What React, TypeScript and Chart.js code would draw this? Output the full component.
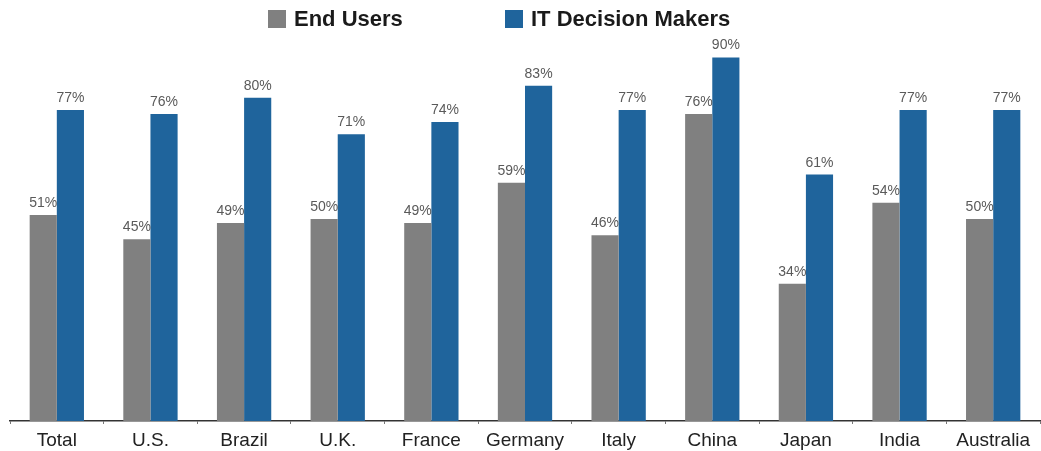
import React, { useEffect, useRef } from "react";
import { Chart, registerables } from "chart.js";

Chart.register(...registerables);

const categories = ["Total", "U.S.", "Brazil", "U.K.", "France", "Germany", "Italy", "China", "Japan", "India", "Australia"];
const endUsers = [51, 45, 49, 50, 49, 59, 46, 76, 34, 54, 50];
const itDecisionMakers = [77, 76, 80, 71, 74, 83, 77, 90, 61, 77, 77];
const seriesNames = ["End Users", "IT Decision Makers"];
const GREY = "#808080";
const BLUE = "#1f649c";

const FONT = "'Liberation Sans', Arial, Helvetica, sans-serif";

const labelPlugin = {
  id: "valueLabels",
  afterDatasetsDraw(chart: any) {
    const ctx = chart.ctx;
    ctx.save();
    ctx.font = `14px ${FONT}`;
    ctx.fillStyle = "#5a5a5a";
    ctx.textAlign = "center";
    ctx.textBaseline = "alphabetic";
    chart.data.datasets.forEach((ds: any, di: number) => {
      const meta = chart.getDatasetMeta(di);
      meta.data.forEach((bar: any, i: number) => {
        ctx.fillText(ds.data[i] + "%", bar.x, bar.y - 8);
      });
    });
    ctx.restore();
  },
};

const legendPlugin = {
  id: "customLegend",
  afterDraw(chart: any) {
    const ctx = chart.ctx;
    ctx.save();
    const items = [
      { x: 268, color: GREY, text: seriesNames[0] },
      { x: 505, color: BLUE, text: seriesNames[1] },
    ];
    ctx.font = `bold 22px ${FONT}`;
    ctx.textBaseline = "middle";
    ctx.textAlign = "left";
    items.forEach((it) => {
      ctx.fillStyle = it.color;
      ctx.fillRect(it.x, 10, 18, 18);
      ctx.fillStyle = "#1a1a1a";
      ctx.fillText(it.text, it.x + 26, 20);
    });
    ctx.restore();
  },
};

export default function App() {
  const ref = useRef<HTMLCanvasElement | null>(null);
  useEffect(() => {
    if (!ref.current) return;
    const chart = new Chart(ref.current, {
      type: "bar",
      data: {
        labels: categories,
        datasets: [
          { label: seriesNames[0], data: endUsers, backgroundColor: GREY, barPercentage: 1, categoryPercentage: 0.58 },
          { label: seriesNames[1], data: itDecisionMakers, backgroundColor: BLUE, barPercentage: 1, categoryPercentage: 0.58 },
        ],
      },
      options: {
        animation: false,
        responsive: false,
        maintainAspectRatio: false,
        layout: { padding: { left: 10, right: 1, top: 17, bottom: 0 } },
        plugins: { legend: { display: false }, tooltip: { enabled: false } },
        scales: {
          x: {
            offset: true,
            afterFit(scale: any) {
              scale.height = 30;
            },
            grid: { display: true, drawOnChartArea: false, drawTicks: true, tickLength: 3, color: "#777", offset: true },
            border: { display: true, color: "#333", width: 1.5 },
            ticks: { color: "#222", font: { family: FONT, size: 19, lineHeight: 1.0 }, padding: 7, maxRotation: 0, autoSkip: false },
          },
          y: {
            display: false,
            min: 0,
            max: 100,
          },
        },
      },
      plugins: [labelPlugin, legendPlugin],
    });
    return () => chart.destroy();
  }, []);
  return (
    <div style={{ position: "fixed", left: 0, top: 0, width: 1041, height: 451, background: "#fff" }}>
      <canvas ref={ref} width={1041} height={451} style={{ width: 1041, height: 451, display: "block" }} />
    </div>
  );
}
